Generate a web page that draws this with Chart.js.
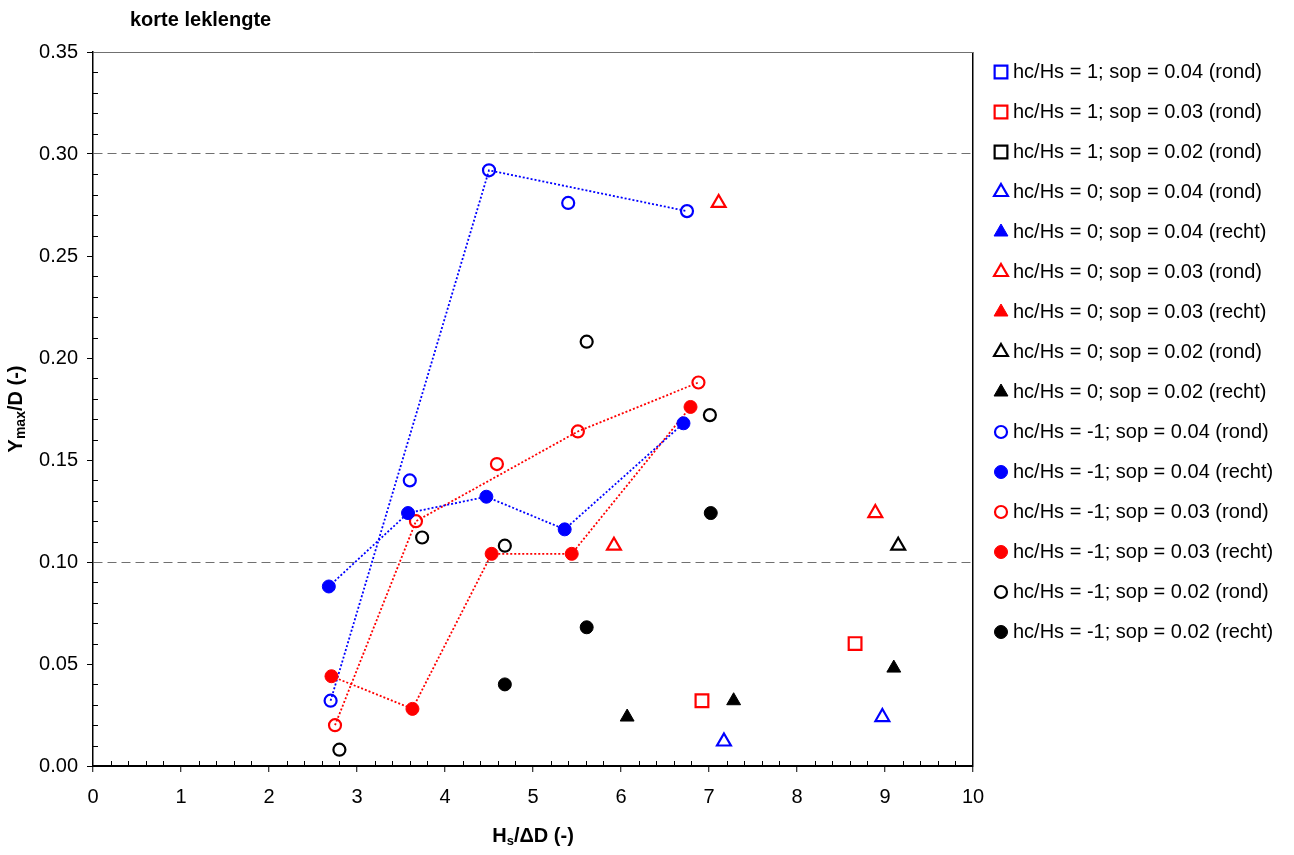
<!DOCTYPE html>
<html>
<head>
<meta charset="utf-8">
<title>korte leklengte</title>
<script src="https://cdn.jsdelivr.net/npm/chart.js@4.4.1/dist/chart.umd.min.js"></script>
<style>
  html, body { margin: 0; padding: 0; background: #fff; }
  #wrap { width: 1294px; height: 855px; }
</style>
</head>
<body>
<div id="wrap"><canvas id="chart"></canvas></div>
<script>
const FONT = "'Liberation Sans', Arial, sans-serif";
const BLUE = '#0000ff', RED = '#ff0000', BLACK = '#000000';

// [Hs/ΔD, Ymax/D] per series
const sqBlue04 = [];
const sqRed03 = [[6.92, 0.032], [8.66, 0.060]];
const sqBlack02 = [];
const triBlue04Rond = [[7.17, 0.012], [8.97, 0.024]];
const triBlue04Recht = [];
const triRed03Rond = [[5.92, 0.108], [7.11, 0.276], [8.89, 0.124]];
const triRed03Recht = [];
const triBlack02Rond = [[9.15, 0.108]];
const triBlack02Recht = [[6.07, 0.024], [7.28, 0.032], [9.10, 0.048]];
const cirBlue04Rond = [[2.70, 0.032], [3.60, 0.140], [4.50, 0.292], [5.40, 0.276], [6.75, 0.272]];
const cirBlue04Recht = [[2.68, 0.088], [3.58, 0.124], [4.47, 0.132], [5.36, 0.116], [6.71, 0.168]];
const cirRed03Rond = [[2.75, 0.020], [3.67, 0.120], [4.59, 0.148], [5.51, 0.164], [6.88, 0.188]];
const cirRed03Recht = [[2.71, 0.044], [3.63, 0.028], [4.53, 0.104], [5.44, 0.104], [6.79, 0.176]];
const cirBlack02Rond = [[2.80, 0.008], [3.74, 0.112], [4.68, 0.108], [5.61, 0.208], [7.01, 0.172]];
const cirBlack02Recht = [[4.68, 0.040], [5.61, 0.068], [7.02, 0.124]];

// which "rond" points are joined by the dotted line
const blueRondLinked = [0, 2, 4];
const redRondLinked = [0, 1, 3, 4];

const refLines = [0.10, 0.30];

const legendLabels = [
  'hc/Hs = 1; sop = 0.04 (rond)',
  'hc/Hs = 1; sop = 0.03 (rond)',
  'hc/Hs = 1; sop = 0.02 (rond)',
  'hc/Hs = 0; sop = 0.04 (rond)',
  'hc/Hs = 0; sop = 0.04 (recht)',
  'hc/Hs = 0; sop = 0.03 (rond)',
  'hc/Hs = 0; sop = 0.03 (recht)',
  'hc/Hs = 0; sop = 0.02 (rond)',
  'hc/Hs = 0; sop = 0.02 (recht)',
  'hc/Hs = -1; sop = 0.04 (rond)',
  'hc/Hs = -1; sop = 0.04 (recht)',
  'hc/Hs = -1; sop = 0.03 (rond)',
  'hc/Hs = -1; sop = 0.03 (recht)',
  'hc/Hs = -1; sop = 0.02 (rond)',
  'hc/Hs = -1; sop = 0.02 (recht)'
];

// data, marker, colour, filled, joined
const seriesDefs = [
  [sqBlue04, 'rect', BLUE, false, false],
  [sqRed03, 'rect', RED, false, false],
  [sqBlack02, 'rect', BLACK, false, false],
  [triBlue04Rond, 'triangle', BLUE, false, false],
  [triBlue04Recht, 'triangle', BLUE, true, false],
  [triRed03Rond, 'triangle', RED, false, false],
  [triRed03Recht, 'triangle', RED, true, false],
  [triBlack02Rond, 'triangle', BLACK, false, false],
  [triBlack02Recht, 'triangle', BLACK, true, false],
  [cirBlue04Rond, 'circle', BLUE, false, false],
  [cirBlue04Recht, 'circle', BLUE, true, true],
  [cirRed03Rond, 'circle', RED, false, false],
  [cirRed03Recht, 'circle', RED, true, true],
  [cirBlack02Rond, 'circle', BLACK, false, false],
  [cirBlack02Recht, 'circle', BLACK, true, false]
];

function toPoints(arr) {
  return arr.map(p => ({ x: p[0], y: p[1] }));
}

function markerRadius(shape, filled) {
  if (shape === 'rect') return 9;
  if (shape === 'triangle') return 8;
  return filled ? 6.5 : 6;
}

const datasets = seriesDefs.map((d, i) => {
  const [data, shape, color, filled, joined] = d;
  return {
    label: legendLabels[i],
    data: toPoints(data),
    pointStyle: shape,
    pointRadius: markerRadius(shape, filled),
    pointHoverRadius: markerRadius(shape, filled),
    pointBackgroundColor: filled ? color : 'rgba(0,0,0,0)',
    pointBorderColor: color,
    pointBorderWidth: filled ? 1 : 2.2,
    showLine: joined,
    borderColor: color,
    borderWidth: 1.8,
    borderDash: [2, 2],
    fill: false
  };
});

function linkLine(arr, idx, color) {
  return {
    label: '',
    isLink: true,
    data: toPoints(idx.map(i => arr[i])),
    showLine: true,
    pointRadius: 0,
    borderColor: color,
    borderWidth: 1.8,
    borderDash: [2, 2],
    fill: false
  };
}
datasets.push(linkLine(cirBlue04Rond, blueRondLinked, BLUE));
datasets.push(linkLine(cirRed03Rond, redRondLinked, RED));

const near = (a, b) => Math.abs(a - b) < 1e-6;

function drawParts(ctx, parts, size, subSize) {
  let total = 0;
  parts.forEach(p => {
    ctx.font = 'bold ' + (p.sub ? subSize : size) + 'px ' + FONT;
    p.w = ctx.measureText(p.t).width;
    total += p.w;
  });
  let x = -total / 2;
  parts.forEach(p => {
    ctx.font = 'bold ' + (p.sub ? subSize : size) + 'px ' + FONT;
    ctx.fillText(p.t, x, p.sub ? 5 : 0);
    x += p.w;
  });
}

const decorations = {
  id: 'decorations',
  afterDraw(chart) {
    const { ctx, chartArea: a, scales: { x, y } } = chart;
    ctx.save();

    // minor ticks, inside the plot
    ctx.strokeStyle = '#000';
    ctx.lineWidth = 1;
    ctx.beginPath();
    for (let i = 0; i <= 50; i++) {
      if (i % 5 === 0) continue;
      const px = Math.round(x.getPixelForValue(i / 5)) + 0.5;
      ctx.moveTo(px, a.bottom);
      ctx.lineTo(px, a.bottom - 5);
    }
    for (let i = 0; i <= 35; i++) {
      if (i % 5 === 0) continue;
      const py = Math.round(y.getPixelForValue(i / 100)) + 0.5;
      ctx.moveTo(a.left, py);
      ctx.lineTo(a.left + 5, py);
    }
    ctx.stroke();

    ctx.fillStyle = '#000';
    ctx.textBaseline = 'middle';

    // title
    ctx.textAlign = 'left';
    ctx.font = 'bold 20px ' + FONT;
    ctx.fillText('korte leklengte', 130, 20);

    // axis titles with subscripts
    ctx.save();
    ctx.translate((a.left + a.right) / 2, 836);
    drawParts(ctx, [{ t: 'H' }, { t: 's', sub: true }, { t: '/ΔD (-)' }], 20, 13);
    ctx.restore();

    ctx.save();
    ctx.translate(16, (a.top + a.bottom) / 2);
    ctx.rotate(-Math.PI / 2);
    drawParts(ctx, [{ t: 'Y' }, { t: 'max', sub: true }, { t: '/D (-)' }], 20, 14);
    ctx.restore();

    // legend
    const mx = a.right + 28;
    let my = 72;
    chart.data.datasets.forEach(ds => {
      if (ds.isLink) return;
      ctx.fillStyle = ds.pointBackgroundColor;
      ctx.strokeStyle = ds.pointBorderColor;
      ctx.lineWidth = ds.pointBorderWidth;
      ctx.setLineDash([]);
      Chart.helpers.drawPoint(ctx, {
        pointStyle: ds.pointStyle,
        radius: ds.pointRadius,
        borderWidth: ds.pointBorderWidth,
        rotation: 0
      }, mx, my);
      ctx.fillStyle = '#000';
      ctx.font = '20px ' + FONT;
      ctx.textAlign = 'left';
      ctx.fillText(ds.label, mx + 12, my);
      my += 40;
    });

    ctx.restore();
  }
};

new Chart(document.getElementById('chart'), {
  type: 'scatter',
  data: { datasets: datasets },
  options: {
    responsive: true,
    maintainAspectRatio: false,
    animation: false,
    layout: { padding: { top: 52, right: 321, bottom: 0, left: 0 } },
    plugins: {
      legend: { display: false },
      tooltip: { enabled: false }
    },
    scales: {
      x: {
        type: 'linear',
        min: 0,
        max: 10,
        ticks: { stepSize: 1, color: '#000', padding: 13, maxRotation: 0, font: { family: FONT, size: 20 } },
        grid: {
          color: c => (c.tick && c.tick.value === 10) ? '#000' : 'rgba(0,0,0,0)',
          lineWidth: 1.5,
          tickColor: '#000',
          tickWidth: 1,
          tickLength: 6
        },
        border: { color: '#000', width: 2 },
        afterFit: s => { s.height = 89; }
      },
      y: {
        type: 'linear',
        min: 0,
        max: 0.35,
        ticks: {
          stepSize: 0.05,
          color: '#000',
          padding: 9,
          font: { family: FONT, size: 20 },
          callback: v => v.toFixed(2)
        },
        grid: {
          color: c => {
            if (!c.tick) return 'rgba(0,0,0,0)';
            const v = c.tick.value;
            if (near(v, 0.35) || refLines.some(r => near(v, r))) return '#707070';
            return 'rgba(0,0,0,0)';
          },
          lineWidth: 1,
          tickColor: '#000',
          tickWidth: 1,
          tickLength: 6
        },
        border: {
          color: '#000',
          width: 1.5,
          dash: c => (c.tick && refLines.some(r => near(c.tick.value, r))) ? [9, 5] : []
        },
        afterFit: s => { s.width = 93; }
      }
    }
  },
  plugins: [decorations]
});
</script>
</body>
</html>
